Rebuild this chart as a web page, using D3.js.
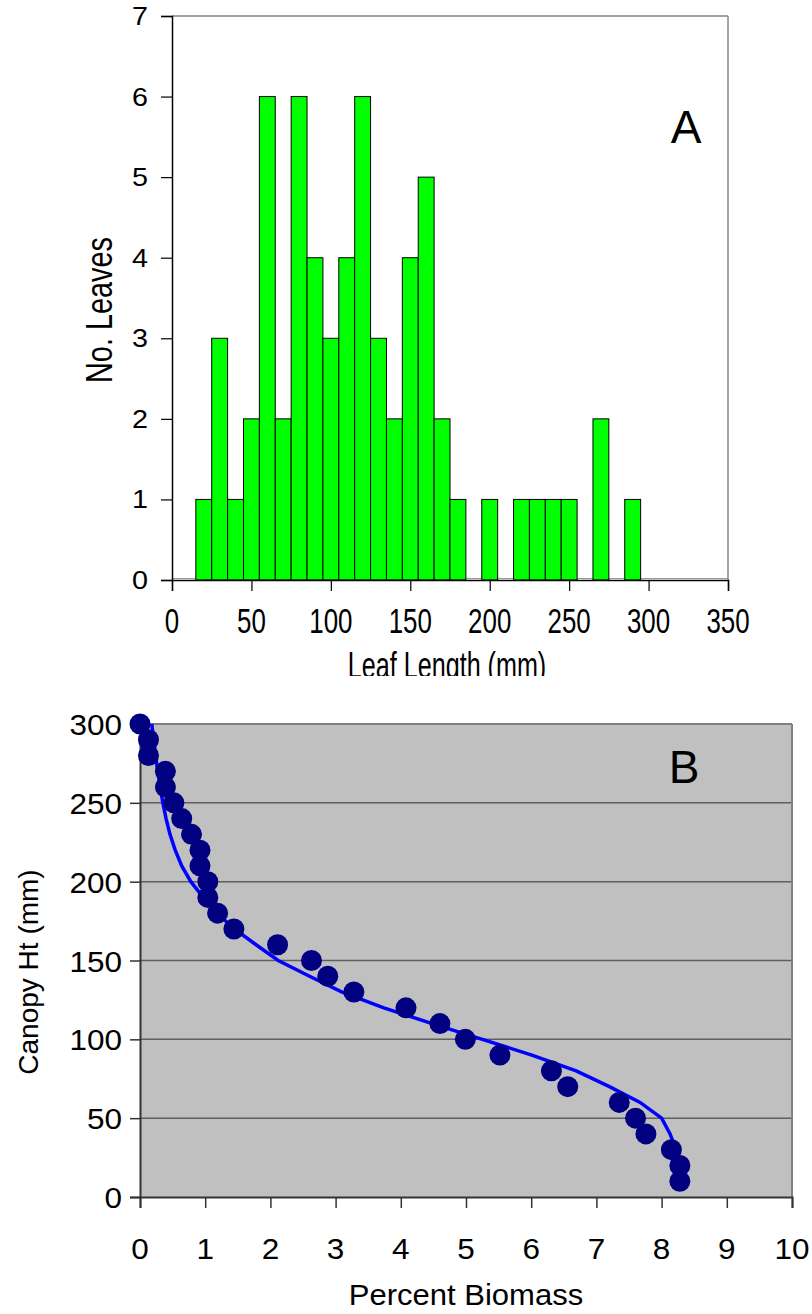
<!DOCTYPE html>
<html>
<head>
<meta charset="utf-8">
<script src="https://cdn.jsdelivr.net/npm/d3@7/dist/d3.min.js"></script>
<style>
html,body{margin:0;padding:0;background:#fff;}
svg{display:block;font-family:"Liberation Sans",Arial,sans-serif;}
</style>
</head>
<body>
<svg id="chart" width="812" height="1314"></svg>
<script>
// ---------- Panel A data (histogram of leaf length) ----------
const binCenters = [20,30,40,50,60,70,80,90,100,110,120,130,140,150,160,170,180,190,200,210,220,230,240,250,260,270,280,290];
const binCounts  = [1, 3, 1, 2, 6, 2, 6, 4, 3,  4,  6,  3,  2,  4,  5,  2,  1,  0,  1,  0,  1,  1,  1,  1,  0,  2,  0,  1];
const binWidth = 10;
const aXTicks = [0,50,100,150,200,250,300,350];
const aYTicks = [0,1,2,3,4,5,6,7];

// ---------- Panel B data (canopy profile) ----------
const biomassPct = [0,0.13,0.13,0.39,0.39,0.52,0.64,0.79,0.92,0.92,1.04,1.04,1.19,1.44,2.11,2.63,2.88,3.28,4.08,4.60,4.99,5.52,6.31,6.56,7.35,7.60,7.76,8.15,8.28,8.28];
const canopyHt   = [300,290,280,270,260,250,240,230,220,210,200,190,180,170,160,150,140,130,120,110,100,90,80,70,60,50,40,30,20,10];
const fitPct = [0.18,0.21,0.24,0.27,0.31,0.35,0.40,0.46,0.54,0.64,0.78,0.97,1.18,1.45,1.78,2.12,2.60,3.10,3.74,4.48,5.25,6.01,6.69,7.20,7.67,8.00,8.13,8.22];
const fitHt  = [300,290,280,270,260,250,240,230,220,210,200,190,180,170,160,150,140,130,120,110,100,90,80,70,60,50,40,30];
const bXTicks = [0,1,2,3,4,5,6,7,8,9,10];
const bYTicks = [0,50,100,150,200,250,300];

const svg = d3.select("#chart");

// ================= Panel A =================
const ax = d3.scaleLinear().domain([0,350]).range([172,728]);
const ay = d3.scaleLinear().domain([0,7]).range([580,16]);

svg.append("clipPath").attr("id","clipA").append("rect")
  .attr("x",0).attr("y",0).attr("width",812).attr("height",676);
const gA = svg.append("g").attr("clip-path","url(#clipA)");

// frame top/right
gA.append("line").attr("x1",ax(0)).attr("x2",ax(350)).attr("y1",ay(7)).attr("y2",ay(7))
  .attr("stroke","#444").attr("stroke-width",1);
gA.append("line").attr("x1",ax(350)).attr("x2",ax(350)).attr("y1",ay(7)).attr("y2",ay(0))
  .attr("stroke","#888").attr("stroke-width",1.5);
// gray baseline
gA.append("line").attr("x1",ax(0)).attr("x2",ax(350)).attr("y1",ay(0)-1.5).attr("y2",ay(0)-1.5)
  .attr("stroke","#999").attr("stroke-width",1);

// bars
gA.append("g").selectAll("rect").data(binCenters.map((c,i)=>({c, n:binCounts[i]})).filter(d=>d.n>0))
  .join("rect")
  .attr("x",d=>ax(d.c-binWidth/2))
  .attr("width",d=>ax(d.c+binWidth/2)-ax(d.c-binWidth/2))
  .attr("y",d=>ay(d.n))
  .attr("height",d=>ay(0)-ay(d.n))
  .attr("fill","#00ff00").attr("stroke","#000").attr("stroke-width",1);

// axes
const axisA_y = d3.axisLeft(ay).tickValues(aYTicks).tickSize(11).tickFormat("");
const gAy = gA.append("g").attr("transform",`translate(${ax(0)},0)`).call(axisA_y);
const axisA_x = d3.axisBottom(ax).tickValues(aXTicks).tickSize(11).tickFormat("");
const gAx = gA.append("g").attr("transform",`translate(0,${ay(0)})`).call(axisA_x);
[gAy,gAx].forEach(g=>{
  g.select(".domain").attr("stroke","#000").attr("stroke-width",1.5);
  g.selectAll(".tick line").attr("stroke","#000").attr("stroke-width",1.2);
});

// tick labels (y)
gA.append("g").selectAll("text").data(aYTicks).join("text")
  .attr("transform",d=>`translate(148,${ay(d)+9}) scale(1.15,1)`)
  .attr("text-anchor","end").attr("font-size",25).attr("fill","#000")
  .text(d=>d);
// tick labels (x)
gA.append("g").selectAll("text").data(aXTicks).join("text")
  .attr("transform",d=>`translate(${ax(d)},633) scale(0.72,1)`)
  .attr("text-anchor","middle").attr("font-size",36).attr("fill","#000")
  .text(d=>d);
// axis titles
gA.append("text").attr("transform",`translate(447,678) scale(0.68,1)`)
  .attr("text-anchor","middle").attr("font-size",37).text("Leaf Length (mm)");
gA.append("text").attr("transform",`translate(112,310) rotate(-90) scale(0.78,1)`)
  .attr("text-anchor","middle").attr("font-size",37).text("No. Leaves");
// panel label
gA.append("text").attr("x",686).attr("y",143).attr("text-anchor","middle")
  .attr("font-size",46).text("A");

// ================= Panel B =================
const bx = d3.scaleLinear().domain([0,10]).range([140,792]);
const by = d3.scaleLinear().domain([0,300]).range([1197,724]);
const gB = svg.append("g");

gB.append("rect").attr("x",bx(0)).attr("y",by(300)).attr("width",bx(10)-bx(0)).attr("height",by(0)-by(300))
  .attr("fill","#c0c0c0");
// gridlines
gB.append("g").selectAll("line").data(bYTicks.filter(d=>d>0 && d<300)).join("line")
  .attr("x1",bx(0)).attr("x2",bx(10)).attr("y1",d=>by(d)).attr("y2",d=>by(d))
  .attr("stroke","#5f5f5f").attr("stroke-width",1.5);
// top/right border
gB.append("line").attr("x1",bx(0)).attr("x2",bx(10)).attr("y1",by(300)).attr("y2",by(300))
  .attr("stroke","#808080").attr("stroke-width",2);
gB.append("line").attr("x1",bx(10)).attr("x2",bx(10)).attr("y1",by(300)).attr("y2",by(0))
  .attr("stroke","#808080").attr("stroke-width",2);

const axisB_y = d3.axisLeft(by).tickValues(bYTicks).tickSize(10).tickFormat("");
const gBy = gB.append("g").attr("transform",`translate(${bx(0)},0)`).call(axisB_y);
const axisB_x = d3.axisBottom(bx).tickValues(bXTicks).tickSize(11).tickFormat("");
const gBx = gB.append("g").attr("transform",`translate(0,${by(0)})`).call(axisB_x);
[gBy,gBx].forEach(g=>{
  g.select(".domain").attr("stroke","#333").attr("stroke-width",2);
  g.selectAll(".tick line").attr("stroke","#333").attr("stroke-width",1.5);
});

// fit line
const lineGen = d3.line().x(d=>bx(d[0])).y(d=>by(d[1]));
gB.append("path").datum(fitPct.map((p,i)=>[p,fitHt[i]]))
  .attr("d",lineGen).attr("fill","none").attr("stroke","#0000ff").attr("stroke-width",3.5)
  .attr("stroke-linejoin","miter");

// points
gB.append("g").selectAll("circle").data(biomassPct.map((p,i)=>[p,canopyHt[i]])).join("circle")
  .attr("cx",d=>bx(d[0])).attr("cy",d=>by(d[1])).attr("r",10.5).attr("fill","#000080");

// tick labels
gB.append("g").selectAll("text").data(bYTicks).join("text")
  .attr("transform",d=>`translate(122,${by(d)+11}) scale(1.05,1)`).attr("text-anchor","end")
  .attr("font-size",30).text(d=>d);
gB.append("g").selectAll("text").data(bXTicks).join("text")
  .attr("transform",d=>`translate(${bx(d)},1259) scale(1.05,1)`).attr("text-anchor","middle")
  .attr("font-size",30).text(d=>d);
// titles
gB.append("text").attr("transform",`translate(466,1305) scale(1.07,1)`).attr("text-anchor","middle")
  .attr("font-size",29).text("Percent Biomass");
gB.append("text").attr("transform",`translate(38,972) rotate(-90)`)
  .attr("text-anchor","middle").attr("font-size",28).text("Canopy Ht (mm)");
gB.append("text").attr("x",684).attr("y",783).attr("text-anchor","middle")
  .attr("font-size",46).text("B");
</script>
</body>
</html>
